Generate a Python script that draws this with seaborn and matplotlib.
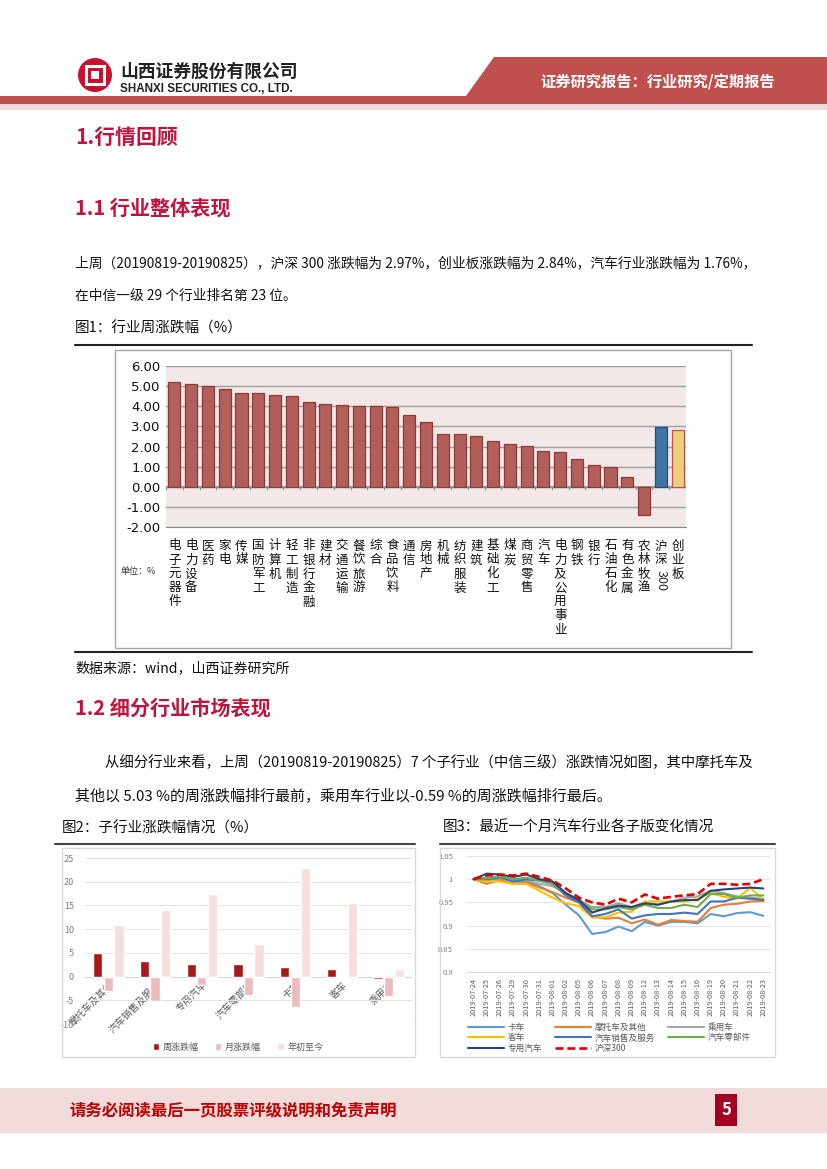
import matplotlib
matplotlib.use("Agg")
import matplotlib.pyplot as plt
from matplotlib.lines import Line2D
from matplotlib.patches import Ellipse, Polygon, Rectangle
import pandas as pd
import seaborn as sns

# Figure 1: weekly change of CITIC level-1 industries (%)
industries = ["电子元器件", "电力设备", "医药", "家电", "传媒", "国防军工", "计算机", "轻工制造",
              "非银行金融", "建材", "交通运输", "餐饮旅游", "综合", "食品饮料", "通信", "房地产",
              "机械", "纺织服装", "建筑", "基础化工", "煤炭", "商贸零售", "汽车", "电力及公用事业",
              "钢铁", "银行", "石油石化", "有色金属", "农林牧渔", "沪深300", "创业板"]
weekly_change = [5.22, 5.11, 5.01, 4.85, 4.64, 4.64, 4.54, 4.49, 4.21, 4.11, 4.05, 4.00, 4.00,
                 3.96, 3.55, 3.20, 2.61, 2.60, 2.52, 2.29, 2.13, 2.03, 1.76, 1.71, 1.36, 1.09,
                 0.98, 0.50, -1.38, 2.97, 2.84]

# Figure 2: sub-industry change (%)
sub_industries = ["摩托车及其他", "汽车销售及服务", "专用汽车", "汽车零部件", "卡车", "客车", "乘用车"]
sub_week = [5.03, 3.38, 2.72, 2.58, 1.98, 1.66, -0.59]
sub_month = [-3.1, -5.1, -1.7, -3.8, -6.5, 0.2, -4.1]
sub_ytd = [10.8, 14.0, 17.5, 6.9, 22.8, 15.5, 1.6]
measure_names = ["周涨跌幅", "月涨跌幅", "年初至今"]

# Figure 3: normalised index of each sub-sector over the last month
dates = ["2019-07-24", "2019-07-25", "2019-07-26", "2019-07-29", "2019-07-30", "2019-07-31",
         "2019-08-01", "2019-08-02", "2019-08-05", "2019-08-06", "2019-08-07", "2019-08-08",
         "2019-08-09", "2019-08-12", "2019-08-13", "2019-08-14", "2019-08-15", "2019-08-16",
         "2019-08-19", "2019-08-20", "2019-08-21", "2019-08-22", "2019-08-23"]
truck = [1.0, 0.997, 1.002, 0.995, 0.995, 0.985, 0.970, 0.945, 0.922, 0.882, 0.886, 0.898,
         0.888, 0.908, 0.900, 0.908, 0.908, 0.905, 0.925, 0.920, 0.927, 0.929, 0.921]
motorcycle = [1.0, 0.990, 0.998, 0.990, 0.993, 0.982, 0.972, 0.960, 0.950, 0.920, 0.915, 0.917,
              0.905, 0.913, 0.902, 0.912, 0.910, 0.908, 0.938, 0.945, 0.947, 0.952, 0.953]
passenger = [1.0, 1.003, 1.005, 0.998, 0.998, 0.990, 0.985, 0.970, 0.955, 0.940, 0.940, 0.948,
             0.940, 0.950, 0.945, 0.952, 0.960, 0.963, 0.975, 0.970, 0.963, 0.960, 0.958]
bus = [1.0, 0.995, 0.995, 0.990, 0.990, 0.975, 0.960, 0.948, 0.942, 0.917, 0.918, 0.928,
       0.930, 0.952, 0.952, 0.952, 0.952, 0.958, 0.970, 0.962, 0.958, 0.982, 0.955]
auto_sales = [1.0, 1.000, 1.005, 0.995, 1.000, 0.997, 0.990, 0.965, 0.950, 0.920, 0.925, 0.935,
              0.915, 0.922, 0.925, 0.925, 0.928, 0.925, 0.952, 0.952, 0.960, 0.958, 0.955]
auto_parts = [1.0, 1.002, 1.006, 1.000, 1.003, 0.997, 0.990, 0.970, 0.955, 0.935, 0.935, 0.940,
              0.935, 0.945, 0.938, 0.938, 0.945, 0.940, 0.968, 0.968, 0.960, 0.965, 0.965]
special = [1.0, 1.012, 1.010, 1.005, 1.010, 1.000, 0.995, 0.970, 0.955, 0.928, 0.937, 0.943,
           0.940, 0.948, 0.945, 0.952, 0.955, 0.955, 0.975, 0.978, 0.980, 0.982, 0.980]
hs300 = [1.0, 1.008, 1.010, 1.008, 1.012, 1.005, 0.997, 0.980, 0.960, 0.950, 0.945, 0.958,
         0.950, 0.967, 0.958, 0.962, 0.965, 0.968, 0.990, 0.990, 0.988, 0.990, 1.000]
line_names = ["卡车", "摩托车及其他", "乘用车", "客车", "汽车销售及服务", "汽车零部件", "专用汽车", "沪深300"]
line_values = [truck, motorcycle, passenger, bus, auto_sales, auto_parts, special, hs300]
line_colors = ["#5B9BD5", "#ED7D31", "#A5A5A5", "#FFC000", "#4472C4", "#70AD47", "#264478", "#E00000"]

sns.set_style("white")
plt.rcParams["font.family"] = ["Noto Sans CJK SC", "DejaVu Sans"]
plt.rcParams["axes.unicode_minus"] = False

W, H = 827, 1169
RED = "#C0504D"
HEAD = "#C0143C"


def fx(x):
    return x / W


def fy(y):
    return 1 - y / H


def box(l, t, r, b):
    return [l / W, 1 - b / H, (r - l) / W, (b - t) / H]


fig = plt.figure(figsize=(W / 100, H / 100), dpi=100)


def ftext(x, y, s, **kw):
    kw.setdefault("va", "center")
    fig.text(fx(x), fy(y), s, **kw)


def fline(x0, x1, y, color="#222222", lw=1.5):
    fig.add_artist(Line2D([fx(x0), fx(x1)], [fy(y), fy(y)], color=color, lw=lw,
                          transform=fig.transFigure))


def frect(l, t, r, b, **kw):
    fig.add_artist(Rectangle((fx(l), fy(b)), (r - l) / W, (b - t) / H,
                             transform=fig.transFigure, **kw))


# ---- page header ----
frect(0, 104, W, 110, facecolor="#F2DCDB", edgecolor="none")
fig.add_artist(Polygon([(fx(0), fy(96)), (fx(466), fy(96)), (fx(494), fy(57)), (fx(W), fy(57)),
                        (fx(W), fy(104)), (fx(0), fy(104))], closed=True, facecolor=RED,
                       edgecolor="none", transform=fig.transFigure))
fig.add_artist(Ellipse((fx(95), fy(75)), 34 / W, 34 / H, facecolor="#C8102E", edgecolor="none",
                       transform=fig.transFigure))
frect(86, 66, 104, 84, facecolor="none", edgecolor="white", lw=2.2)
frect(91, 71, 99, 79, facecolor="white", edgecolor="none")
ftext(120, 72, "山西证券股份有限公司", fontsize=12.8, fontweight="bold", color="#222222")
ftext(120, 89, "SHANXI SECURITIES CO., LTD.", fontsize=8.4, fontweight="bold",
      color="#222222", family=["Liberation Sans", "DejaVu Sans"])
ftext(540, 82, "证券研究报告：行业研究/定期报告", fontsize=11, fontweight="bold", color="white")

# ---- section text ----
ftext(75, 137, "1.行情回顾", fontsize=15, fontweight="bold", color=HEAD)
ftext(75, 208, "1.1 行业整体表现", fontsize=14.5, fontweight="bold", color=HEAD)
ftext(75, 263, "上周（20190819-20190825），沪深 300 涨跌幅为 2.97%，创业板涨跌幅为 2.84%，汽车行业涨跌幅为 1.76%，",
      fontsize=9.9, color="#111111")
ftext(75, 296, "在中信一级 29 个行业排名第 23 位。", fontsize=9.9, color="#111111")
ftext(75, 328, "图1：行业周涨跌幅（%）", fontsize=10.5, color="#111111")
fline(75, 752, 345)
fline(75, 752, 652)
frect(115, 350, 731, 648, facecolor="none", edgecolor="#A6A6A6", lw=1)
ftext(75, 668, "数据来源：wind，山西证券研究所", fontsize=10.1, color="#111111")
ftext(75, 708, "1.2 细分行业市场表现", fontsize=14.5, fontweight="bold", color=HEAD)
ftext(105, 763, "从细分行业来看，上周（20190819-20190825）7 个子行业（中信三级）涨跌情况如图，其中摩托车及",
      fontsize=10.4, color="#111111")
ftext(75, 796, "其他以 5.03 %的周涨跌幅排行最前，乘用车行业以-0.59 %的周涨跌幅排行最后。",
      fontsize=10.8, color="#111111")
ftext(62, 828, "图2：子行业涨跌幅情况（%）", fontsize=10.5, color="#111111")
ftext(443, 828, "图3：最近一个月汽车行业各子版变化情况", fontsize=10.5, color="#111111")
fline(55, 415, 844, color="#444444", lw=1.5)
fline(440, 775, 844, color="#444444", lw=1.5)
frect(62, 848, 415, 1057, facecolor="none", edgecolor="#D9D9D9", lw=1)
frect(440, 848, 775, 1057, facecolor="none", edgecolor="#D9D9D9", lw=1)

# ---- footer ----
frect(0, 1088, W, 1133, facecolor="#F2DCDB", edgecolor="none")
ftext(70, 1110, "请务必阅读最后一页股票评级说明和免责声明", fontsize=11.8, fontweight="bold",
      color="#C00000")
frect(715, 1094, 737, 1126, facecolor="#A50021", edgecolor="none")
ftext(726, 1110, "5", fontsize=12, fontweight="bold", color="white", ha="center")

# ---- figure 1 ----
ax1 = fig.add_axes(box(166, 366, 686, 527))
bar_colors = [RED] * (len(industries) - 2) + ["#2E75B6", "#FFD966"]
edge_colors = ["#8B3A38"] * (len(industries) - 2) + ["#1F4E79", "#C0504D"]
df1 = pd.DataFrame({"industry": industries, "change": weekly_change})
sns.barplot(data=df1, x="industry", y="change", hue="industry", palette=bar_colors,
            legend=False, width=0.72, ax=ax1, zorder=3)
for patch, ec in zip(ax1.patches, edge_colors):
    patch.set_edgecolor(ec)
    patch.set_linewidth(0.9)
ax1.set_facecolor("#F2E8E8")
ax1.set_ylim(-2, 6)
ax1.set_xlim(-0.5, len(industries) - 0.5)
ax1.set_yticks(range(-2, 7))
ax1.set_yticklabels([f"{v:.2f}" for v in range(-2, 7)], fontsize=9.5,
                    family=["DejaVu Sans"], color="#111111")
ax1.grid(axis="y", color="#A0A0A0", lw=1, zorder=0)
ax1.axhline(0, color="#8C8C8C", lw=1.2, zorder=2)
for i in range(len(industries) + 1):
    ax1.plot([i - 0.5, i - 0.5], [0, -0.12], color="#8C8C8C", lw=1, zorder=2)
labels1 = ["\n".join(name) if name != "沪深300" else "沪\n深" for name in industries]
ax1.set_xticks(range(len(industries)))
ax1.set_xticklabels(labels1, fontsize=9, linespacing=1.1, va="top", color="#111111")
ax1.tick_params(axis="x", length=0, pad=9)
ax1.tick_params(axis="y", length=0, pad=4)
ax1.text(industries.index("沪深300"), -0.27, "300", rotation=-90, fontsize=9,
         ha="center", va="top", transform=ax1.get_xaxis_transform())
ax1.set_xlabel("")
ax1.set_ylabel("")
for s in ax1.spines.values():
    s.set_visible(False)
ax1.spines["bottom"].set_visible(True)
ax1.spines["bottom"].set_color("#8C8C8C")
ftext(120, 572, "单位：%", fontsize=6.5, color="#333333")

# ---- figure 2 ----
ax2 = fig.add_axes(box(85, 858, 412, 1024))
df2 = pd.DataFrame({
    "sub": sub_industries * 3,
    "measure": [measure_names[0]] * 7 + [measure_names[1]] * 7 + [measure_names[2]] * 7,
    "value": sub_week + sub_month + sub_ytd,
})
sns.barplot(data=df2, x="sub", y="value", hue="measure", hue_order=measure_names,
            palette=["#C00000", "#F4B4B4", "#FADADA"], width=0.68, gap=0.12, ax=ax2, zorder=3)
ax2.set_ylim(-10, 25)
ax2.set_xlim(-0.5, len(sub_industries) - 0.5)
ax2.set_yticks(range(-10, 26, 5))
ax2.tick_params(axis="y", labelsize=6.5, labelcolor="#7F7F7F", length=0, pad=8)
ax2.grid(axis="y", color="#E3E3E3", lw=0.8, zorder=0)
for s in ["top", "right", "left"]:
    ax2.spines[s].set_visible(False)
ax2.spines["bottom"].set_position(("data", 0))
ax2.spines["bottom"].set_color("#D9D9D9")
ax2.set_xticks(range(len(sub_industries)))
ax2.set_xticklabels(sub_industries, rotation=45, ha="right", rotation_mode="anchor",
                    fontsize=7, color="#595959")
ax2.tick_params(axis="x", length=0, pad=2)
ax2.set_xlabel("")
ax2.set_ylabel("")
handles2, labels2 = ax2.get_legend_handles_labels()
ax2.legend(handles2, labels2, ncol=3, frameon=False, fontsize=6.5, labelcolor="#595959",
           loc="center", bbox_to_anchor=(fx(238), fy(1047)), bbox_transform=fig.transFigure,
           handlelength=0.7, handleheight=0.7, columnspacing=1.8, handletextpad=0.4)

# ---- figure 3 ----
ax3 = fig.add_axes(box(467, 856, 770, 972))
df3 = pd.DataFrame({
    "idx": [i for _ in line_names for i in range(len(dates))],
    "series": [n for n, vals in zip(line_names, line_values) for _ in vals],
    "value": [v for vals in line_values for v in vals],
})
sns.lineplot(data=df3, x="idx", y="value", hue="series", hue_order=line_names,
             palette=line_colors, style="series", style_order=line_names,
             dashes={n: ((3, 1.5) if n == "沪深300" else "") for n in line_names},
             linewidth=1.5, legend=False, ax=ax3)
for ln, name in zip(ax3.lines, line_names):
    if name == "沪深300":
        ln.set_linewidth(1.9)
ax3.set_xlim(-0.5, len(dates) - 0.5)
ax3.set_ylim(0.8, 1.05)
ax3.set_yticks([0.8, 0.85, 0.9, 0.95, 1.0, 1.05])
ax3.set_yticklabels(["0.8", "0.85", "0.9", "0.95", "1", "1.05"])
ax3.tick_params(axis="y", labelsize=5.5, labelcolor="#7F7F7F", length=0, pad=10)
ax3.grid(axis="y", color="#E3E3E3", lw=0.8)
ax3.set_xticks(range(len(dates)))
ax3.set_xticklabels(dates, rotation=90, fontsize=5.3, color="#595959")
ax3.tick_params(axis="x", length=2.5, color="#D9D9D9", pad=2)
for s in ["top", "right", "left"]:
    ax3.spines[s].set_visible(False)
ax3.spines["bottom"].set_color("#D9D9D9")
ax3.set_xlabel("")
ax3.set_ylabel("")
order = [0, 3, 6, 1, 4, 7, 2, 5]
ax3.legend([ax3.lines[i] for i in order], [line_names[i] for i in order], ncol=3,
           frameon=False, fontsize=6.2, labelcolor="#595959", loc="upper left",
           bbox_to_anchor=(fx(460), fy(1015)), bbox_transform=fig.transFigure,
           handlelength=4.2, columnspacing=1.5, labelspacing=0.2, handletextpad=0.4)

fig.savefig("out.png", dpi=100)
